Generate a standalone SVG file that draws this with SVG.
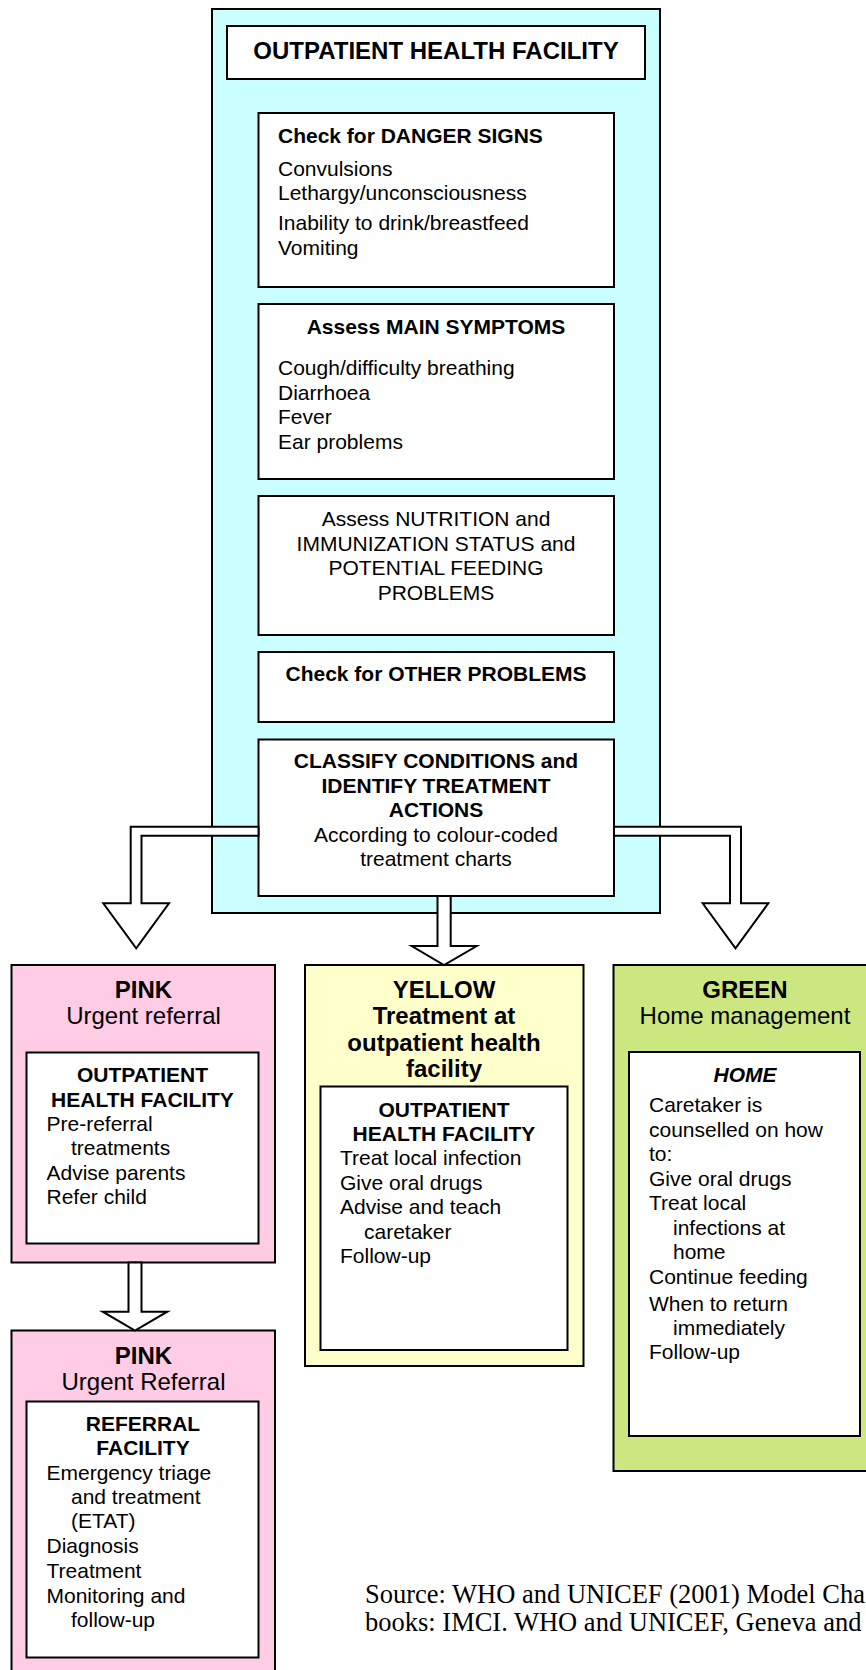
<svg xmlns="http://www.w3.org/2000/svg" width="866" height="1670" viewBox="0 0 866 1670">
<style>
.box{stroke:#000;stroke-width:2}
.w{fill:#fff}
.cyan{fill:#ccffff}
.pink{fill:#ffcce6}
.yel{fill:#ffffcc}
.grn{fill:#cce680}
text{font-family:"Liberation Sans",Arial,sans-serif;fill:#000}
.h24b{font-size:24px;font-weight:bold}
.h24{font-size:24px}
.t21b{font-size:21px;font-weight:bold}
.t21{font-size:21px}
.bi{font-size:21px;font-weight:bold;font-style:italic}
.c{text-anchor:middle}
.src{font-family:"Liberation Serif","Times New Roman",serif;font-size:26.5px}
.arrow{fill:#fff;stroke:#000;stroke-width:2;stroke-linejoin:miter}
</style>
<rect width="866" height="1670" fill="#fff"/>

<g id="outpatient-container">
<rect class="box cyan" x="212" y="9" width="448" height="904"/>
</g>
<g id="header">
<rect class="box w" x="227" y="26" width="418" height="53"/>
<text class="h24b c" x="436" y="59">OUTPATIENT HEALTH FACILITY</text>
</g>
<g id="danger-signs">
<rect class="box w" x="258.5" y="113" width="355.5" height="174"/>
<text class="t21b" x="278" y="143">Check for DANGER SIGNS</text>
<text class="t21" x="278" y="176">Convulsions</text>
<text class="t21" x="278" y="199.5">Lethargy/unconsciousness</text>
<text class="t21" x="278" y="230">Inability to drink/breastfeed</text>
<text class="t21" x="278" y="254.5">Vomiting</text>
</g>
<g id="main-symptoms">
<rect class="box w" x="258.5" y="304" width="355.5" height="175"/>
<text class="t21b c" x="436" y="333.5">Assess MAIN SYMPTOMS</text>
<text class="t21" x="278" y="375">Cough/difficulty breathing</text>
<text class="t21" x="278" y="400">Diarrhoea</text>
<text class="t21" x="278" y="424">Fever</text>
<text class="t21" x="278" y="449">Ear problems</text>
</g>
<g id="nutrition">
<rect class="box w" x="258.5" y="496" width="355.5" height="139"/>
<text class="t21 c" x="436" y="526">Assess NUTRITION and</text>
<text class="t21 c" x="436" y="550.5">IMMUNIZATION STATUS and</text>
<text class="t21 c" x="436" y="575">POTENTIAL FEEDING</text>
<text class="t21 c" x="436" y="599.5">PROBLEMS</text>
</g>
<g id="other-problems">
<rect class="box w" x="258.5" y="652" width="355.5" height="70"/>
<text class="t21b c" x="436" y="681">Check for OTHER PROBLEMS</text>
</g>
<g id="classify">
<rect class="box w" x="258.5" y="739.5" width="355.5" height="156.5"/>
<text class="t21b c" x="436" y="768">CLASSIFY CONDITIONS and</text>
<text class="t21b c" x="436" y="793">IDENTIFY TREATMENT</text>
<text class="t21b c" x="436" y="817">ACTIONS</text>
<text class="t21 c" x="436" y="842">According to colour-coded</text>
<text class="t21 c" x="436" y="866">treatment charts</text>
</g>

<g id="pink-outpatient">
<rect class="box pink" x="11.5" y="965" width="263.5" height="297.5"/>
<text class="h24b c" x="143.5" y="998">PINK</text>
<text class="h24 c" x="143.5" y="1024">Urgent referral</text>
<rect class="box w" x="26.5" y="1052.5" width="232" height="191"/>
<text class="t21b c" x="142.5" y="1082">OUTPATIENT</text>
<text class="t21b c" x="142.5" y="1106.5">HEALTH FACILITY</text>
<text class="t21" x="46.5" y="1131">Pre-referral</text>
<text class="t21" x="71" y="1155">treatments</text>
<text class="t21" x="46.5" y="1179.5">Advise parents</text>
<text class="t21" x="46.5" y="1204">Refer child</text>
</g>

<g id="yellow-outpatient">
<rect class="box yel" x="305" y="965" width="278.5" height="401"/>
<text class="h24b c" x="444" y="998">YELLOW</text>
<text class="h24b c" x="444" y="1024">Treatment at</text>
<text class="h24b c" x="444" y="1050.5">outpatient health</text>
<text class="h24b c" x="444" y="1076.5">facility</text>
<rect class="box w" x="320.5" y="1086.5" width="247" height="263.5"/>
<text class="t21b c" x="444" y="1116.5">OUTPATIENT</text>
<text class="t21b c" x="444" y="1140.5">HEALTH FACILITY</text>
<text class="t21" x="340" y="1165">Treat local infection</text>
<text class="t21" x="340" y="1189.5">Give oral drugs</text>
<text class="t21" x="340" y="1214">Advise and teach</text>
<text class="t21" x="364" y="1238.5">caretaker</text>
<text class="t21" x="340" y="1262.5">Follow-up</text>
</g>

<g id="green-home">
<rect class="box grn" x="613.5" y="965" width="263" height="506"/>
<text class="h24b c" x="745" y="998">GREEN</text>
<text class="h24 c" x="745" y="1024">Home management</text>
<rect class="box w" x="629" y="1052" width="231" height="384"/>
<text class="bi c" x="745" y="1082">HOME</text>
<text class="t21" x="649" y="1112">Caretaker is</text>
<text class="t21" x="649" y="1136.5">counselled on how</text>
<text class="t21" x="649" y="1161">to:</text>
<text class="t21" x="649" y="1186">Give oral drugs</text>
<text class="t21" x="649" y="1210">Treat local</text>
<text class="t21" x="673" y="1235">infections at</text>
<text class="t21" x="673" y="1259">home</text>
<text class="t21" x="649" y="1283.5">Continue feeding</text>
<text class="t21" x="649" y="1310.5">When to return</text>
<text class="t21" x="673" y="1335">immediately</text>
<text class="t21" x="649" y="1359">Follow-up</text>
</g>

<g id="pink-referral">
<rect class="box pink" x="11.5" y="1330.5" width="263.5" height="360"/>
<text class="h24b c" x="143.5" y="1363.5">PINK</text>
<text class="h24 c" x="143.5" y="1389.5">Urgent Referral</text>
<rect class="box w" x="26.5" y="1401.5" width="232" height="256"/>
<text class="t21b c" x="143" y="1431">REFERRAL</text>
<text class="t21b c" x="143" y="1455">FACILITY</text>
<text class="t21" x="46.5" y="1479.5">Emergency triage</text>
<text class="t21" x="71" y="1503.5">and treatment</text>
<text class="t21" x="71" y="1528">(ETAT)</text>
<text class="t21" x="46.5" y="1553">Diagnosis</text>
<text class="t21" x="46.5" y="1578">Treatment</text>
<text class="t21" x="46.5" y="1603">Monitoring and</text>
<text class="t21" x="71" y="1627">follow-up</text>
</g>

<g id="connectors">
<polygon class="arrow" points="258.5,826.7 130.7,826.7 130.7,903.3 103.3,903.3 136.2,948.3 169,903.3 141.5,903.3 141.5,835.7 258.5,835.7"/>
<polygon class="arrow" points="614,826.7 741,826.7 741,903.3 768.3,903.3 735.5,948.3 702.7,903.3 730,903.3 730,835.7 614,835.7"/>
<polygon class="arrow" points="437.5,896 437.5,946 411.7,946 444,965 476.7,946 450.7,946 450.7,896"/>
<polygon class="arrow" points="128.5,1262.5 128.5,1311.7 102.7,1311.7 135,1330.5 167.3,1311.7 141.5,1311.7 141.5,1262.5"/>
</g>

<g id="source">
<text class="src" x="365" y="1603">Source: WHO and UNICEF (2001) Model Cha</text>
<text class="src" x="365" y="1631">books: IMCI. WHO and UNICEF, Geneva and</text>
</g>
</svg>
